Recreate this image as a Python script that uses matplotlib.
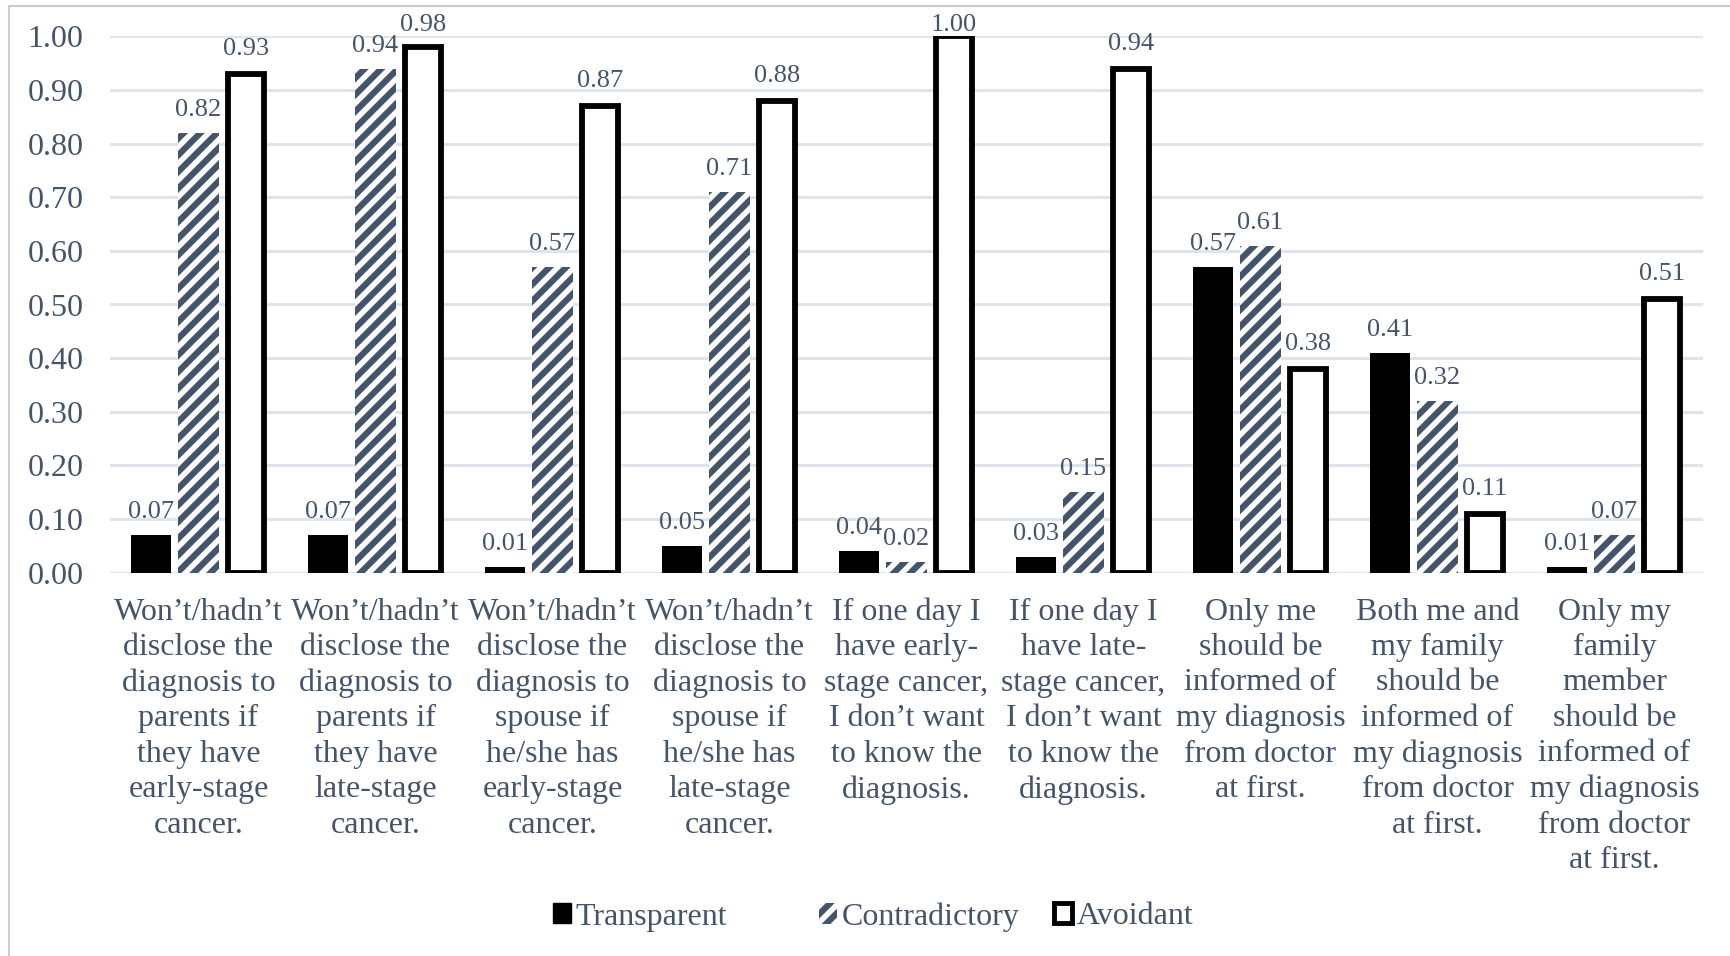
import matplotlib
matplotlib.use("Agg")
import matplotlib.pyplot as plt
from matplotlib.patches import Patch
from matplotlib.lines import Line2D
import numpy as np

categories = [
    "Won\u2019t/hadn\u2019t\ndisclose the\ndiagnosis to\nparents if\nthey have\nearly-stage\ncancer.",
    "Won\u2019t/hadn\u2019t\ndisclose the\ndiagnosis to\nparents if\nthey have\nlate-stage\ncancer.",
    "Won\u2019t/hadn\u2019t\ndisclose the\ndiagnosis to\nspouse if\nhe/she has\nearly-stage\ncancer.",
    "Won\u2019t/hadn\u2019t\ndisclose the\ndiagnosis to\nspouse if\nhe/she has\nlate-stage\ncancer.",
    "If one day I\nhave early-\nstage cancer,\nI don\u2019t want\nto know the\ndiagnosis.",
    "If one day I\nhave late-\nstage cancer,\nI don\u2019t want\nto know the\ndiagnosis.",
    "Only me\nshould be\ninformed of\nmy diagnosis\nfrom doctor\nat first.",
    "Both me and\nmy family\nshould be\ninformed of\nmy diagnosis\nfrom doctor\nat first.",
    "Only my\nfamily\nmember\nshould be\ninformed of\nmy diagnosis\nfrom doctor\nat first.",
]
transparent = [0.07, 0.07, 0.01, 0.05, 0.04, 0.03, 0.57, 0.41, 0.01]
contradictory = [0.82, 0.94, 0.57, 0.71, 0.02, 0.15, 0.61, 0.32, 0.07]
avoidant = [0.93, 0.98, 0.87, 0.88, 1.00, 0.94, 0.38, 0.11, 0.51]
series_names = ["Transparent", "Contradictory", "Avoidant"]
yticks = [0.0, 0.1, 0.2, 0.3, 0.4, 0.5, 0.6, 0.7, 0.8, 0.9, 1.0]

TEXT = "#44546a"
GRID = "#dfe3ea"
SERIF = ["Liberation Serif", "DejaVu Serif"]

plt.rcParams["font.family"] = SERIF
plt.rcParams["hatch.color"] = TEXT
plt.rcParams["hatch.linewidth"] = 4.5

fig = plt.figure(figsize=(17.3, 9.56), dpi=100)
ax = fig.add_axes([110 / 1730, 1 - 572.6 / 956, (1703 - 110) / 1730, (572.6 - 36.4) / 956])

x = np.arange(len(categories))
off = 0.268
w = 0.226

ax.bar(x - off, transparent, w, color="black", zorder=3)
ax.bar(x, contradictory, w, color="white", edgecolor=TEXT, hatch="//", linewidth=0, zorder=3)
ax.bar(x + off, avoidant, 0.2, color="white", edgecolor="black", linewidth=4.2, zorder=3)

# value labels above bars, kept inside the figure near the top of the scale
label_kw = dict(ha="center", va="bottom", fontsize=19, color=TEXT, clip_on=False)
for xs, vals, pad in [(x - off, transparent, 0.022), (x, contradictory, 0.022), (x + off, avoidant, 0.026)]:
    for xi, v in zip(xs, vals):
        ax.text(xi, min(v + pad, 1.0), f"{v:.2f}", **label_kw)

ax.set_xlim(-0.5, len(categories) - 0.5)
ax.set_ylim(0, 1.0)
ax.set_yticks(yticks)
ax.set_yticklabels([f"{t:.2f}" for t in yticks], fontsize=23, color=TEXT)
ax.set_xticks(x)
ax.set_xticklabels(categories, fontsize=23, color=TEXT, linespacing=1.29)
ax.tick_params(axis="both", length=0)
ax.tick_params(axis="x", pad=18)
ax.tick_params(axis="y", pad=19)
ax.grid(axis="y", color=GRID, linewidth=2.2, zorder=0)
for s in ax.spines.values():
    s.set_visible(False)
ax.axhline(0, color=GRID, linewidth=2.2, zorder=1)

# legend entries, placed individually
handles = [
    Patch(facecolor="black", edgecolor="black"),
    Patch(facecolor="white", edgecolor=TEXT, hatch="//", linewidth=0),
    Patch(facecolor="white", edgecolor="black", linewidth=3.5),
]
xpos = [553 / 1730, 819 / 1730, 1054 / 1730]
for h, name, xp in zip(handles, series_names, xpos):
    fig.legend([h], [name], loc="center left", bbox_to_anchor=(xp, 1 - 917 / 956),
               frameon=False, fontsize=23, handlelength=0.55, handleheight=0.6,
               handletextpad=0.15, borderpad=0, borderaxespad=0,
               labelcolor=TEXT)

# outer frame (left and top edges)
fig.add_artist(Line2D([9 / 1730, 9 / 1730], [0, 1 - 6 / 956], transform=fig.transFigure,
                      color="#c9cdd3", linewidth=1.5))
fig.add_artist(Line2D([9 / 1730, 1], [1 - 6 / 956, 1 - 6 / 956], transform=fig.transFigure,
                      color="#c9cdd3", linewidth=1.5))

fig.savefig("out.png", dpi=100, facecolor="white")
